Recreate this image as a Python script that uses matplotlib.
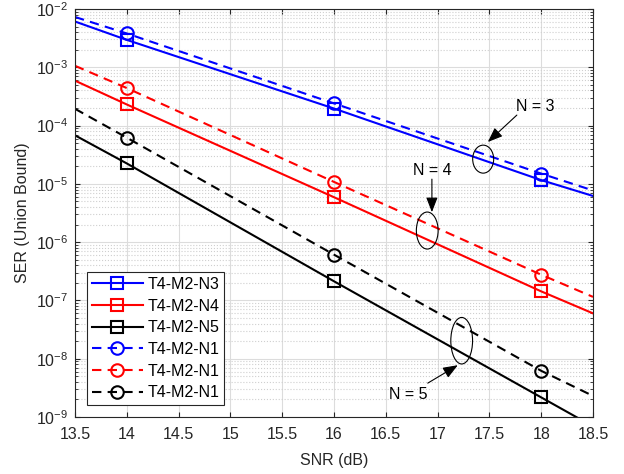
import matplotlib
matplotlib.use("Agg")
import matplotlib.pyplot as plt
from matplotlib.patches import Ellipse

plt.rcParams['font.family'] = ['Liberation Sans', 'DejaVu Sans']

# SNR points (line ends and marker positions)
snr = [13.5, 14, 16, 18, 18.5]

ser_n3 = [6.1e-3, 2.95e-3, 1.96e-4, 1.16e-5, 6.2e-6]
ser_n4 = [5.9e-4, 2.3e-4, 5.9e-6, 1.43e-7, 6.0e-8]
ser_n5 = [6.8e-5, 2.24e-5, 2.13e-7, 2.17e-9, 6.9e-10]
ser_n3_d = [7.3e-3, 3.8e-3, 2.4e-4, 1.5e-5, 7.7e-6]
ser_n4_d = [1.06e-3, 4.4e-4, 1.08e-5, 2.76e-7, 1.15e-7]
ser_n5_d = [1.94e-4, 6.2e-5, 6.1e-7, 6.2e-9, 2.3e-9]

labels = ['T4-M2-N3', 'T4-M2-N4', 'T4-M2-N5', 'T4-M2-N1', 'T4-M2-N1', 'T4-M2-N1']
series = [ser_n3, ser_n4, ser_n5, ser_n3_d, ser_n4_d, ser_n5_d]
colors = ['#0000ff', '#ff0000', '#000000', '#0000ff', '#ff0000', '#000000']
dashed = (0, (4.5, 3))
styles = ['-', '-', '-', dashed, dashed, dashed]
markers = ['s', 's', 's', 'o', 'o', 'o']

fig = plt.figure(figsize=(6.24, 4.74), dpi=100)
ax = fig.add_axes([75 / 624, 1 - 417 / 474, 518 / 624, 408 / 474])

for y, c, ls, m, lab in zip(series, colors, styles, markers, labels):
    ax.semilogy(snr, y, color=c, linestyle=ls, linewidth=1.5, marker=m,
                markevery=[1, 2, 3], markersize=8 if m == 's' else 9,
                markerfacecolor='none', markeredgewidth=1.5, label=lab)

ax.set_xlim(13.5, 18.5)
ax.set_ylim(1e-9, 1e-2)
ax.set_xticks([13.5, 14, 14.5, 15, 15.5, 16, 16.5, 17, 17.5, 18, 18.5])
ax.set_xticklabels(['13.5', '14', '14.5', '15', '15.5', '16', '16.5', '17', '17.5', '18', '18.5'])
ax.set_xlabel('SNR (dB)', fontsize=11.5, color='#262626', labelpad=8)
ax.set_ylabel('SER (Union Bound)', fontsize=11.5, color='#262626', labelpad=4)

ax.grid(True, which='major', color='#dcdcdc', linestyle='-', linewidth=0.8)
ax.grid(True, which='minor', axis='y', color='#cfcfcf', linestyle=':', linewidth=0.8)
ax.tick_params(which='both', direction='in', top=True, right=True, colors='#262626',
               labelsize=11.5)
ax.tick_params(axis='x', which='major', pad=7)
ax.tick_params(axis='y', which='major', pad=5)
ax.tick_params(axis='x', which='minor', top=False, bottom=False)
for s in ax.spines.values():
    s.set_color('#262626')
    s.set_linewidth(0.8)

leg = ax.legend(loc='lower left', bbox_to_anchor=(0.023, 0.029), borderaxespad=0,
                fontsize=11.5, fancybox=False, framealpha=1, edgecolor='#262626',
                handlelength=3.2, labelspacing=0.42, borderpad=0.3, handletextpad=0.3)
leg.get_frame().set_linewidth(0.8)

# ellipses and annotations (axes fraction)
ellipses = [(0.788, 0.632, 0.0405, 0.0686), (0.680, 0.457, 0.042, 0.0907),
            (0.7465, 0.187, 0.042, 0.114)]
for cx, cy, w, h in ellipses:
    ax.add_patch(Ellipse((cx, cy), w, h, transform=ax.transAxes, fill=False,
                         edgecolor='black', linewidth=0.8, zorder=5))

notes = [('N = 3', (0.888, 0.760), (0.853, 0.740), (0.797, 0.674)),
         ('N = 4', (0.689, 0.605), (0.689, 0.583), (0.689, 0.502)),
         ('N = 5', (0.643, 0.054), (0.681, 0.083), (0.739, 0.127))]
for txt, tpos, tail, tip in notes:
    ax.text(tpos[0], tpos[1], txt, transform=ax.transAxes, ha='center', va='center',
            fontsize=11.5, zorder=6)
    ax.annotate('', xy=tip, xytext=tail, xycoords='axes fraction',
                textcoords='axes fraction',
                arrowprops=dict(arrowstyle='-|>,head_length=0.9,head_width=0.35',
                                color='black', linewidth=0.8, shrinkA=0, shrinkB=0),
                zorder=6)

fig.savefig('out.png', dpi=100)
